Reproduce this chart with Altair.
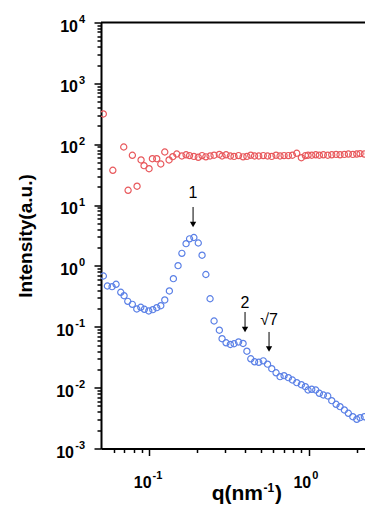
import altair as alt
import pandas as pd

# ---- data ----
red_q = [0.0517, 0.0593, 0.0694, 0.0739, 0.0786, 0.0841, 0.0891, 0.0930, 0.1000,
         0.1049, 0.1117, 0.1184, 0.1254, 0.1334, 0.1407, 0.1491,
         0.1605, 0.1705, 0.1793, 0.1908, 0.2033, 0.2147, 0.2268, 0.2410, 0.2553,
         0.2755, 0.2865, 0.3035, 0.3228, 0.3405, 0.3635, 0.3879, 0.4098, 0.4334,
         0.4578, 0.4863, 0.5189, 0.5521, 0.5865, 0.6240, 0.6612, 0.7004, 0.7452,
         0.7896, 0.8411, 0.8989, 0.9522, 0.9899, 1.044, 1.106, 1.165, 1.234,
         1.315, 1.393, 1.483, 1.570, 1.671, 1.770, 1.887, 1.998, 2.096, 2.229,
         2.361, 2.517, 2.677, 2.836]
red_I = [314, 37.3, 90.0, 17.5, 65.8, 20.4, 55.1, 44.4, 39.6,
         57.8, 57.8, 47.3, 74.5, 55.1, 62.4, 69.1,
         64, 67, 65, 63, 61, 65, 62, 64, 66,
         68, 64, 67, 64, 63, 65, 62, 63, 66,
         64, 64, 65, 64, 63, 66, 64, 65, 65,
         66, 71, 60, 65, 66, 66, 67, 66, 67,
         66, 67, 68, 67, 68, 69, 68, 69, 70, 69,
         70, 70, 71, 71]

blue_q = [0.05174, 0.05481, 0.05865, 0.06213, 0.06649, 0.06973, 0.07355, 0.07856,
          0.08375, 0.08872, 0.09345, 0.09957, 0.1055, 0.1117, 0.1184, 0.1254,
          0.1340, 0.1420, 0.1519, 0.1605, 0.1705, 0.1793, 0.1908, 0.2033, 0.2147,
          0.2268, 0.2410, 0.2553, 0.2755, 0.2865, 0.3035, 0.3228, 0.3405, 0.3635,
          0.3879, 0.4098, 0.4334, 0.4578, 0.4863, 0.5189, 0.5521, 0.5865, 0.6240,
          0.6612, 0.7004, 0.7452, 0.7896, 0.8411, 0.8989, 0.9522, 0.9899, 1.044,
          1.106, 1.165, 1.234, 1.315, 1.393, 1.483, 1.570, 1.671, 1.770, 1.887,
          1.998, 2.096, 2.229, 2.361, 2.517, 2.677, 2.836]
blue_I = [0.683, 0.468, 0.456, 0.499, 0.369, 0.324, 0.262, 0.234,
          0.196, 0.209, 0.194, 0.182, 0.191, 0.206, 0.222, 0.276,
          0.388, 0.617, 1.01, 1.61, 2.32, 2.79, 2.93, 2.38, 1.50,
          0.723, 0.289, 0.1245, 0.0879, 0.0637, 0.0546, 0.0512, 0.0526, 0.0563,
          0.0532, 0.0397, 0.0298, 0.0266, 0.0261, 0.0276, 0.0243, 0.0205, 0.01754,
          0.01514, 0.01572, 0.01458, 0.01336, 0.01207, 0.01118, 0.01037, 0.00915, 0.00940,
          0.00915, 0.00808, 0.00757, 0.00729, 0.00611, 0.00533, 0.00487, 0.00430, 0.00379, 0.00333,
          0.00302, 0.00321, 0.00333, 0.00294, 0.00266, 0.00253, 0.00234]

peak_q = [0.1886, 0.399, 0.564]
peak_labels = ["1", "2", "\u221a7"]
peak_label_I = [15.8, 0.246, 0.129]
arrow_top_I = [9.3, 0.175, 0.0822]
arrow_head_I = [4.8, 0.0903, 0.0432]

# axis ticks and labels
x_ticks = [0.06, 0.07, 0.08, 0.09, 0.1, 0.2, 0.3, 0.4, 0.5, 0.6, 0.7, 0.8, 0.9, 1, 2]
y_ticks = [m * 10.0 ** e for e in range(-3, 4) for m in range(1, 10)] + [1e4]
x_label_values = [0.1, 1]
x_label_exps = ["-1", "0"]
y_label_values = [1e-3, 1e-2, 1e-1, 1, 10, 100, 1000, 10000]
y_label_exps = ["-3", "-2", "-1", "0", "1", "2", "3", "4"]

EXP = "round(log(datum.value)/LN10)"
MAJ = f"abs(log(datum.value)/LN10 - {EXP}) < 0.001"
tick_size = {"condition": {"test": MAJ, "value": 7}, "value": 4}

FONT = "Liberation Sans"

x_axis = alt.Axis(values=x_ticks, labels=False, tickSize=tick_size, grid=False,
                  tickColor="black", tickWidth=1.5, domainColor="black", domainWidth=2,
                  title=None)
y_axis = alt.Axis(values=y_ticks, labels=False, tickSize=tick_size, grid=False,
                  tickColor="black", tickWidth=1.5, domainColor="black", domainWidth=2,
                  title="Intensity(a.u.)", titleFont=FONT, titleFontSize=19, titleFontWeight="bold",
                  titleColor="black", titleX=-76, titleY=213, titleAngle=270,
                  titleBaseline="middle", titleAlign="center")

xs = alt.Scale(type="log", domain=[0.05, 2.25])
ys = alt.Scale(type="log", domain=[1e-3, 1e4])

def X():
    return alt.X("q:Q", scale=xs, axis=x_axis)

def Y():
    return alt.Y("I:Q", scale=ys, axis=y_axis)

red_df = pd.DataFrame({"q": red_q, "I": red_I})
blue_df = pd.DataFrame({"q": blue_q, "I": blue_I})
arrow_df = pd.DataFrame({"q": peak_q, "I": arrow_top_I, "I2": arrow_head_I})
head_df = pd.DataFrame({"q": peak_q, "I": arrow_head_I})
text_df = pd.DataFrame({"q": peak_q, "I": peak_label_I, "t": peak_labels})
ylab_df = pd.DataFrame({"I": y_label_values, "e": y_label_exps})
ylab_neg = ylab_df[ylab_df["e"].str.startswith("-")]
ylab_pos = ylab_df[~ylab_df["e"].str.startswith("-")]
xlab_df = pd.DataFrame({"q": x_label_values, "e": x_label_exps})
one_df = pd.DataFrame({"q": [1.0]})

pt = dict(shape="circle", filled=False, clip=True, size=38, strokeWidth=1.2, opacity=1)
red = alt.Chart(red_df).mark_point(color="#E8585C", **pt).encode(x=X(), y=Y())
blue = alt.Chart(blue_df).mark_point(color="#5B80E6", **pt).encode(x=X(), y=Y())
rules = alt.Chart(arrow_df).mark_rule(color="black", strokeWidth=1).encode(x=X(), y=Y(), y2="I2:Q")
heads = alt.Chart(head_df).mark_point(shape="triangle-down", filled=True, color="black",
                                      size=40, opacity=1).encode(x=X(), y=Y())
texts = alt.Chart(text_df).mark_text(font=FONT, fontSize=16, color="black",
                                     baseline="middle").encode(x=X(), y=Y(), text="t:N")
top_line = alt.Chart(one_df).mark_rule(color="black", strokeWidth=2).encode(
    y=alt.datum(10000, scale=ys))

lab = dict(font=FONT, fontWeight="bold", color="black", baseline="alphabetic")
# y tick labels: "10" plus superscript exponent
y10_neg = alt.Chart(ylab_neg).mark_text(align="right", fontSize=16, dy=9, **lab).encode(
    x=alt.value(-27), y=Y(), text=alt.value("10"))
y10_pos = alt.Chart(ylab_pos).mark_text(align="right", fontSize=16, dy=9, **lab).encode(
    x=alt.value(-23), y=Y(), text=alt.value("10"))
ysup = alt.Chart(ylab_df).mark_text(align="right", fontSize=11, dy=0.5, **lab).encode(
    x=alt.value(-16), y=Y(), text="e:N")
# x tick labels
x10 = alt.Chart(xlab_df).mark_text(align="right", fontSize=16, dx=2.5, **lab).encode(
    x=X(), y=alt.value(465.5), text=alt.value("10"))
xsup = alt.Chart(xlab_df).mark_text(align="left", fontSize=11, dx=3.5, **lab).encode(
    x=X(), y=alt.value(456.5), text="e:N")
# x title q(nm^-1)
xt1 = alt.Chart(one_df).mark_text(align="right", fontSize=21, **lab).encode(
    x=alt.value(162), y=alt.value(477.5), text=alt.value("q(nm"))
xt2 = alt.Chart(one_df).mark_text(align="left", fontSize=12, **lab).encode(
    x=alt.value(162.5), y=alt.value(469.5), text=alt.value("-1"))
xt3 = alt.Chart(one_df).mark_text(align="left", fontSize=21, **lab).encode(
    x=alt.value(174), y=alt.value(477.5), text=alt.value(")"))

chart = alt.layer(red, blue, rules, heads, texts, top_line,
                  y10_neg, y10_pos, ysup, x10, xsup, xt1, xt2, xt3).properties(
    width=264, height=426,
    autosize=alt.AutoSizeParams(type="none"),
    padding={"left": 93, "top": 14.5, "right": 0, "bottom": 59},
).configure_view(stroke=None)

chart.save("out.html", embed_options={"renderer": "svg", "actions": False})
